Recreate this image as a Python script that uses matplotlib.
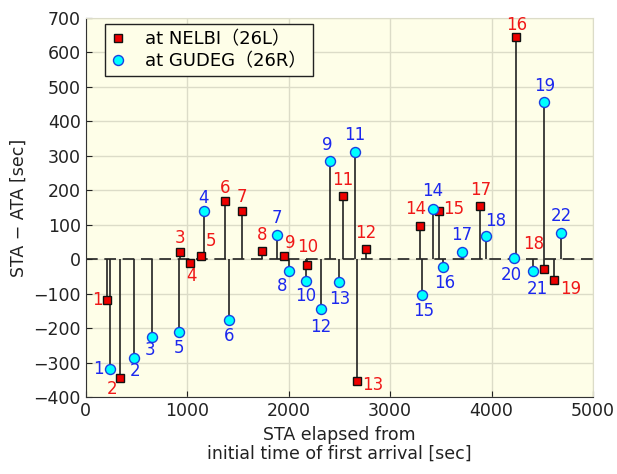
import matplotlib.pyplot as plt
import numpy as np

# NELBI (26L) arrivals: STA elapsed [sec], STA-ATA [sec]
nelbi_x = [210, 335, 926, 1025, 1136, 1376, 1540, 1741, 1951, 2177,
           2535, 2765, 2670, 3291, 3478, 4240, 3885, 4515, 4618]
nelbi_y = [-118, -344, 20, -11, 10, 170, 141, 25, 10, -17,
           183, 31, -354, 97, 139, 645, 155, -29, -60]

# GUDEG (26R) arrivals
gudeg_x = [236, 473, 657, 1163, 916, 1412, 1885, 2000, 2404, 2167, 2650,
           2315, 2499, 3422, 3310, 3517, 3711, 3941, 4515, 4217, 4411, 4690]
gudeg_y = [-318, -287, -226, 139, -212, -175, 71, -33, 286, -64, 311,
           -144, -67, 145, -103, -22, 21, 68, 456, 5, -33, 75]

# label offsets in pixels (dx right, dy down)
nelbi_off = [(-10, 0), (-8, 11), (0, -14), (2, 13), (10, -15), (0, -13),
             (0, -14), (0, -16), (7, -13), (1, -18), (0, -16), (0, -16),
             (16, 4), (-4, -17), (15, -2), (1, -12), (1, -16), (-10, -25),
             (16, 9)]
gudeg_off = [(-11, 0), (1, 13), (-2, 13), (0, -13), (0, 16), (0, 16),
             (0, -17), (-7, 15), (-2, -16), (0, 15), (0, -17), (0, 18),
             (1, 17), (0, -18), (2, 16), (2, 16), (-1, -17), (10, -15),
             (1, -16), (-2, 17), (4, 18), (0, -17)]

fig = plt.figure(figsize=(6.17, 4.74), dpi=100)
ax = fig.add_axes([0.139, 0.162, 0.822, 0.8])
ax.set_facecolor('#fefee8')

ax.set_xlim(0, 5000)
ax.set_ylim(-400, 700)
ax.set_xticks(np.arange(0, 5001, 1000))
ax.set_yticks(np.arange(-400, 701, 100))
ax.grid(True, color='#dcdcc8', lw=1.0)
ax.set_axisbelow(True)

ax.axhline(0, color='#222222', lw=1.2, ls=(0, (7, 4)), zorder=2)
ax.vlines(nelbi_x, 0, nelbi_y, color='#222222', lw=1.2, zorder=3)
ax.vlines(gudeg_x, 0, gudeg_y, color='#222222', lw=1.2, zorder=3)

ax.plot(nelbi_x, nelbi_y, 's', ms=5.6, mfc='#ee0000', mec='#111111', mew=1,
        ls='none', zorder=4, label='at NELBI（26L）')
ax.plot(gudeg_x, gudeg_y, 'o', ms=7.2, mfc='#00ffff', mec='#1a40e0', mew=1,
        ls='none', zorder=4, label='at GUDEG（26R）')

k = 0.72
for i, (x, y) in enumerate(zip(nelbi_x, nelbi_y)):
    dx, dy = nelbi_off[i]
    ax.annotate(str(i + 1), (x, y), xytext=(dx * k, -dy * k), textcoords='offset points',
                ha='center', va='center', color='#f01818', fontsize=12, zorder=5)
for i, (x, y) in enumerate(zip(gudeg_x, gudeg_y)):
    dx, dy = gudeg_off[i]
    ax.annotate(str(i + 1), (x, y), xytext=(dx * k, -dy * k), textcoords='offset points',
                ha='center', va='center', color='#1c28ee', fontsize=12, zorder=5)

for s in ['top', 'right']:
    ax.spines[s].set_color('#dcdcc8')
for s in ['left', 'bottom']:
    ax.spines[s].set_color('#333333')
ax.tick_params(direction='in', labelsize=12.5, colors='#222222', length=4)

ax.set_xlabel('STA elapsed from\ninitial time of first arrival [sec]', fontsize=12.5,
              color='#222222', linespacing=1.1)
ax.set_ylabel('STA − ATA [sec]', fontsize=12.5, color='#222222')

leg = ax.legend(loc='upper left', frameon=True, fancybox=False,
                prop={'family': ['DejaVu Sans', 'Noto Sans CJK JP'], 'size': 13},
                handlelength=0.8, handletextpad=1.1, borderpad=0.35, labelspacing=0.2,
                borderaxespad=0, bbox_to_anchor=(0.037, 0.984))
leg.get_frame().set_edgecolor('#222222')
leg.get_frame().set_facecolor('#fefee8')
leg.get_frame().set_alpha(1)

fig.savefig('out.png', dpi=100)
